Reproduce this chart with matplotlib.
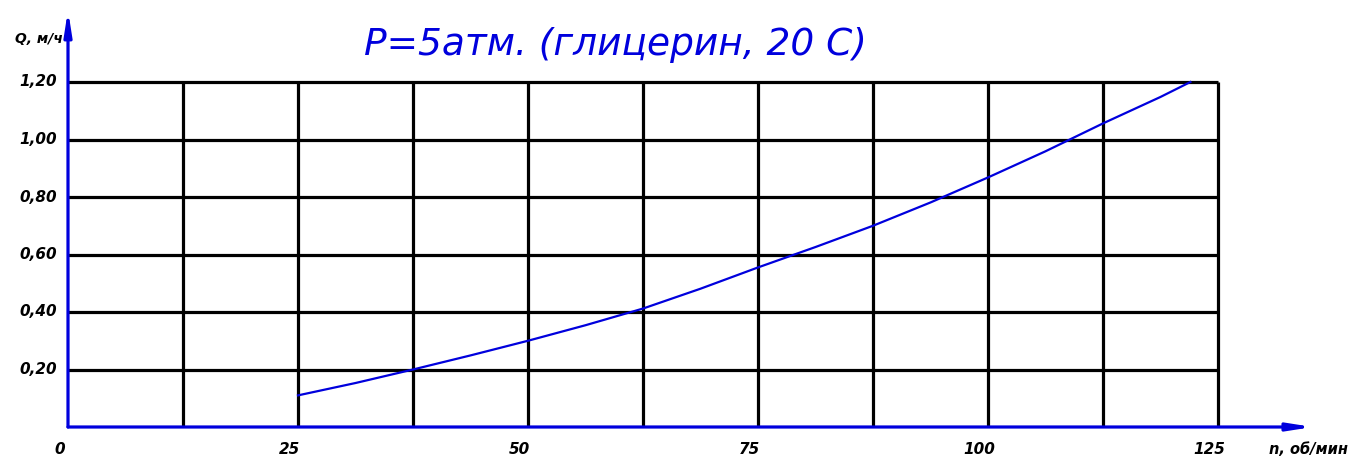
import matplotlib
matplotlib.use("Agg")
import matplotlib.pyplot as plt

# Data
n_vals = [25, 31.25, 37.5, 43.75, 50, 56.25, 62.5, 68.75, 75, 81.25, 87.5,
          93.75, 100, 106.25, 112.5, 118.75, 122]
q_vals = [0.11, 0.153, 0.20, 0.249, 0.30, 0.354, 0.412, 0.481, 0.555, 0.626,
          0.70, 0.781, 0.868, 0.959, 1.056, 1.148, 1.20]

x_grid = [12.5, 25, 37.5, 50, 62.5, 75, 87.5, 100, 112.5, 125]
y_grid = [0.2, 0.4, 0.6, 0.8, 1.0, 1.2]
x_ticks = [0, 25, 50, 75, 100, 125]
x_ticklabels = ["0", "25", "50", "75", "100", "125"]
y_ticks = [0.2, 0.4, 0.6, 0.8, 1.0, 1.2]
y_ticklabels = ["0,20", "0,40", "0,60", "0,80", "1,00", "1,20"]

title = "P=5атм. (глицерин, 20 С)"
xlabel = "n, об/мин"
ylabel = "Q, м/ч"

BLUE = "#0000dd"
W, H = 1365, 457
px_x = 9.2      # pixels per x unit
px_y = 287.5    # pixels per y unit
x0_px, y0_px = 68, 427
xmax, ymax = 137.0, 1.46

fig = plt.figure(figsize=(W / 100, H / 100), dpi=100)
ax = fig.add_axes([x0_px / W, (H - y0_px) / H, xmax * px_x / W, ymax * px_y / H])
ax.set_xlim(0, xmax)
ax.set_ylim(0, ymax)
ax.axis("off")

# grid
ax.vlines(x_grid, 0, max(y_grid), colors="black", linewidth=2.3, zorder=1)
ax.hlines(y_grid, 0, max(x_grid), colors="black", linewidth=2.3, zorder=1)

# axes with arrows
arrow = dict(arrowstyle="-|>,head_length=1.4,head_width=0.22",
             color=BLUE, lw=2.3, shrinkA=0, shrinkB=0)
ax.annotate("", xy=(135.3, 0), xytext=(0, 0), arrowprops=arrow,
            annotation_clip=False, zorder=3)
ax.annotate("", xy=(0, 1.45), xytext=(0, 0), arrowprops=arrow,
            annotation_clip=False, zorder=3)

# curve
ax.plot(n_vals, q_vals, color=BLUE, linewidth=1.6, zorder=2,
        solid_joinstyle="round")

tick_font = dict(fontsize=11, fontweight="bold", style="italic", color="black")
for xv, lab in zip(x_ticks, x_ticklabels):
    ax.text(xv - 0.9, -0.08, lab, ha="center", va="center", clip_on=False, **tick_font)
for yv, lab in zip(y_ticks, y_ticklabels):
    ax.text(-1.2, yv, lab, ha="right", va="center", clip_on=False, **tick_font)

ax.text(-0.6, 1.35, ylabel, ha="right", va="center", clip_on=False,
        fontsize=10, fontweight="bold", style="italic")
ax.text(130.5, -0.08, xlabel, ha="left", va="center", clip_on=False,
        fontsize=10.5, fontweight="bold", style="italic")

ax.text(59.5, 1.33, title, ha="center", va="center", color=BLUE,
        fontsize=27, style="italic", clip_on=False)

fig.savefig("out.png", dpi=100)
